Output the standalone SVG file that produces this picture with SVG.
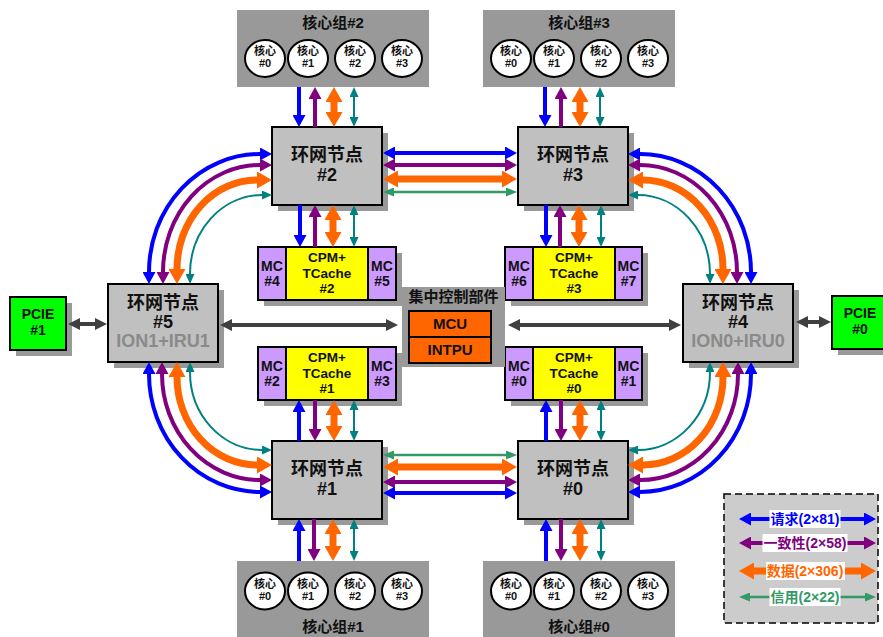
<svg xmlns="http://www.w3.org/2000/svg" width="883" height="637" viewBox="0 0 883 637">
<style>
text{font-family:"Liberation Sans","Noto Sans CJK SC",sans-serif;font-weight:bold;text-anchor:middle;fill:#111}
.f18{font-size:18px}.f15{font-size:15px}.f11{font-size:11px}.f14{font-size:14px}.f13{font-size:13.5px}
.grey{fill:#8a8a8a}
.cg{fill:#999}
.core{fill:#fff;stroke:#000;stroke-width:2}
.sh{fill:#999}
.rn{fill:#c0c0c0;stroke:#000;stroke-width:2}
.mc{fill:#cc99ff;stroke:#000;stroke-width:2}
.cpm{fill:#ffff00;stroke:#000;stroke-width:2}
.or{fill:#ff6600;stroke:#000;stroke-width:2}
.pc{fill:#00ff00;stroke:#000;stroke-width:2}
.b{fill:none;stroke:#0000ff;stroke-width:4}
.p{fill:none;stroke:#800080;stroke-width:4}
.o{fill:none;stroke:#ff6600;stroke-width:7}
.t{fill:none;stroke:#008080;stroke-width:2}
.g{fill:none;stroke:#339966;stroke-width:2.5}
.k{fill:none;stroke:#404040;stroke-width:4}
.bs{marker-start:url(#mb)}.be{marker-end:url(#mb)}
.ps{marker-start:url(#mp)}.pe{marker-end:url(#mp)}
.os{marker-start:url(#mo)}.oe{marker-end:url(#mo)}
.ts{marker-start:url(#mt)}.te{marker-end:url(#mt)}
.gs{marker-start:url(#mg)}.ge{marker-end:url(#mg)}
.ks{marker-start:url(#mk)}.ke{marker-end:url(#mk)}
</style>
<defs>
<marker id="mb" markerUnits="userSpaceOnUse" viewBox="0 0 12 13" markerWidth="12" markerHeight="13" refX="0" refY="6.5" orient="auto-start-reverse"><path d="M0,0L12,6.5L0,13z" fill="#0000ff"/></marker>
<marker id="mp" markerUnits="userSpaceOnUse" viewBox="0 0 12 13" markerWidth="12" markerHeight="13" refX="0" refY="6.5" orient="auto-start-reverse"><path d="M0,0L12,6.5L0,13z" fill="#800080"/></marker>
<marker id="mo" markerUnits="userSpaceOnUse" viewBox="0 0 15 17" markerWidth="15" markerHeight="17" refX="0" refY="8.5" orient="auto-start-reverse"><path d="M0,0L15,8.5L0,17z" fill="#ff6600"/></marker>
<marker id="mt" markerUnits="userSpaceOnUse" viewBox="0 0 10 9" markerWidth="10" markerHeight="9" refX="0" refY="4.5" orient="auto-start-reverse"><path d="M0,0L10,4.5L0,9z" fill="#008080"/></marker>
<marker id="mg" markerUnits="userSpaceOnUse" viewBox="0 0 11 9" markerWidth="11" markerHeight="9" refX="0" refY="4.5" orient="auto-start-reverse"><path d="M0,0L11,4.5L0,9z" fill="#339966"/></marker>
<marker id="mk" markerUnits="userSpaceOnUse" viewBox="0 0 12 12" markerWidth="12" markerHeight="12" refX="0" refY="6" orient="auto-start-reverse"><path d="M0,0L12,6L0,12z" fill="#404040"/></marker>
</defs>

<g id="core2">
<rect class="cg" x="237" y="10" width="192" height="77"/>
<text class="f15" x="333" y="28">核心组#2</text>
<ellipse class="core" cx="265" cy="58.5" rx="20" ry="18.5"/><ellipse class="core" cx="308" cy="58.5" rx="20" ry="18.5"/><ellipse class="core" cx="355" cy="58.5" rx="20" ry="18.5"/><ellipse class="core" cx="402" cy="58.5" rx="20" ry="18.5"/>
<text class="f11" x="265" y="55">核心</text><text class="f11" x="265" y="67">#0</text>
<text class="f11" x="308" y="55">核心</text><text class="f11" x="308" y="67">#1</text>
<text class="f11" x="355" y="55">核心</text><text class="f11" x="355" y="67">#2</text>
<text class="f11" x="402" y="55">核心</text><text class="f11" x="402" y="67">#3</text>
</g>
<g id="core3">
<rect class="cg" x="483" y="10" width="192" height="77"/>
<text class="f15" x="579" y="28">核心组#3</text>
<ellipse class="core" cx="511" cy="58.5" rx="20" ry="18.5"/><ellipse class="core" cx="554" cy="58.5" rx="20" ry="18.5"/><ellipse class="core" cx="601" cy="58.5" rx="20" ry="18.5"/><ellipse class="core" cx="648" cy="58.5" rx="20" ry="18.5"/>
<text class="f11" x="511" y="55">核心</text><text class="f11" x="511" y="67">#0</text>
<text class="f11" x="554" y="55">核心</text><text class="f11" x="554" y="67">#1</text>
<text class="f11" x="601" y="55">核心</text><text class="f11" x="601" y="67">#2</text>
<text class="f11" x="648" y="55">核心</text><text class="f11" x="648" y="67">#3</text>
</g>
<g id="core1">
<rect class="cg" x="237" y="561" width="192" height="80"/>
<text class="f15" x="333" y="632">核心组#1</text>
<ellipse class="core" cx="265" cy="591" rx="20" ry="18.5"/><ellipse class="core" cx="308" cy="591" rx="20" ry="18.5"/><ellipse class="core" cx="355" cy="591" rx="20" ry="18.5"/><ellipse class="core" cx="402" cy="591" rx="20" ry="18.5"/>
<text class="f11" x="265" y="587.5">核心</text><text class="f11" x="265" y="600">#0</text>
<text class="f11" x="308" y="587.5">核心</text><text class="f11" x="308" y="600">#1</text>
<text class="f11" x="355" y="587.5">核心</text><text class="f11" x="355" y="600">#2</text>
<text class="f11" x="402" y="587.5">核心</text><text class="f11" x="402" y="600">#3</text>
</g>
<g id="core0">
<rect class="cg" x="483" y="561" width="192" height="80"/>
<text class="f15" x="579" y="632">核心组#0</text>
<ellipse class="core" cx="511" cy="591" rx="20" ry="18.5"/><ellipse class="core" cx="554" cy="591" rx="20" ry="18.5"/><ellipse class="core" cx="601" cy="591" rx="20" ry="18.5"/><ellipse class="core" cx="648" cy="591" rx="20" ry="18.5"/>
<text class="f11" x="511" y="587.5">核心</text><text class="f11" x="511" y="600">#0</text>
<text class="f11" x="554" y="587.5">核心</text><text class="f11" x="554" y="600">#1</text>
<text class="f11" x="601" y="587.5">核心</text><text class="f11" x="601" y="600">#2</text>
<text class="f11" x="648" y="587.5">核心</text><text class="f11" x="648" y="600">#3</text>
</g>

<g id="ring2"><rect class="sh" x="278" y="133" width="110" height="78"/><rect class="rn" x="272" y="127" width="110" height="78"/>
<text class="f18" x="327" y="161">环网节点</text><text class="f18" x="327" y="181">#2</text></g>
<g id="ring3"><rect class="sh" x="524" y="133" width="110" height="78"/><rect class="rn" x="518" y="127" width="110" height="78"/>
<text class="f18" x="573" y="161">环网节点</text><text class="f18" x="573" y="181">#3</text></g>
<g id="ring1"><rect class="sh" x="278" y="447" width="110" height="78"/><rect class="rn" x="272" y="441" width="110" height="78"/>
<text class="f18" x="327" y="475">环网节点</text><text class="f18" x="327" y="495">#1</text></g>
<g id="ring0"><rect class="sh" x="524" y="447" width="110" height="78"/><rect class="rn" x="518" y="441" width="110" height="78"/>
<text class="f18" x="573" y="475">环网节点</text><text class="f18" x="573" y="495">#0</text></g>
<g id="ring5"><rect class="sh" x="114" y="290" width="110" height="78"/><rect class="rn" x="108" y="284" width="110" height="78"/>
<text class="f18" x="163" y="309">环网节点</text><text class="f18" x="163" y="328">#5</text><text class="f18 grey" x="163" y="347">ION1+IRU1</text></g>
<g id="ring4"><rect class="sh" x="689" y="290" width="110" height="78"/><rect class="rn" x="683" y="284" width="110" height="78"/>
<text class="f18" x="738" y="309">环网节点</text><text class="f18" x="738" y="328">#4</text><text class="f18 grey" x="738" y="347">ION0+IRU0</text></g>

<g id="cpm2"><rect class="sh" x="264" y="253" width="138" height="53"/>
<rect class="mc" x="258" y="247" width="28" height="53"/><rect class="cpm" x="286" y="247" width="82" height="53"/><rect class="mc" x="368" y="247" width="28" height="53"/>
<text class="f14" x="272" y="270.5">MC</text><text class="f14" x="272" y="286">#4</text>
<text class="f13" x="327" y="262">CPM+</text><text class="f13" x="327" y="277.5">TCache</text><text class="f13" x="327" y="293">#2</text>
<text class="f14" x="382" y="270.5">MC</text><text class="f14" x="382" y="286">#5</text></g>
<g id="cpm3"><rect class="sh" x="511" y="253" width="137" height="53"/>
<rect class="mc" x="505" y="247" width="28" height="53"/><rect class="cpm" x="533" y="247" width="82" height="53"/><rect class="mc" x="615" y="247" width="27" height="53"/>
<text class="f14" x="519" y="270.5">MC</text><text class="f14" x="519" y="286">#6</text>
<text class="f13" x="574" y="262">CPM+</text><text class="f13" x="574" y="277.5">TCache</text><text class="f13" x="574" y="293">#3</text>
<text class="f14" x="628.5" y="270.5">MC</text><text class="f14" x="628.5" y="286">#7</text></g>
<g id="cpm1"><rect class="sh" x="264" y="353" width="138" height="53"/>
<rect class="mc" x="258" y="347" width="28" height="53"/><rect class="cpm" x="286" y="347" width="82" height="53"/><rect class="mc" x="368" y="347" width="28" height="53"/>
<text class="f14" x="272" y="370.5">MC</text><text class="f14" x="272" y="386">#2</text>
<text class="f13" x="327" y="362">CPM+</text><text class="f13" x="327" y="377.5">TCache</text><text class="f13" x="327" y="393">#1</text>
<text class="f14" x="382" y="370.5">MC</text><text class="f14" x="382" y="386">#3</text></g>
<g id="cpm0"><rect class="sh" x="511" y="353" width="137" height="53"/>
<rect class="mc" x="505" y="347" width="28" height="53"/><rect class="cpm" x="533" y="347" width="82" height="53"/><rect class="mc" x="615" y="347" width="27" height="53"/>
<text class="f14" x="519" y="370.5">MC</text><text class="f14" x="519" y="386">#0</text>
<text class="f13" x="574" y="362">CPM+</text><text class="f13" x="574" y="377.5">TCache</text><text class="f13" x="574" y="393">#0</text>
<text class="f14" x="628.5" y="370.5">MC</text><text class="f14" x="628.5" y="386">#1</text></g>

<g id="ctrl"><rect class="cg" x="402" y="287" width="103" height="80"/>
<text class="f15" x="453.5" y="302">集中控制部件</text>
<rect class="or" x="409" y="311" width="82" height="26"/><rect class="or" x="409" y="337" width="82" height="26"/>
<text class="f15" x="450" y="329">MCU</text><text class="f15" x="450" y="355">INTPU</text></g>

<g id="pcie1"><rect class="sh" x="16" y="303" width="56" height="53"/><rect class="pc" x="10" y="297" width="56" height="53"/>
<text class="f14" x="38" y="319">PCIE</text><text class="f14" x="38" y="335">#1</text></g>
<g id="pcie0"><rect class="sh" x="838" y="302" width="56" height="53"/><rect class="pc" x="832" y="296" width="56" height="53"/>
<text class="f14" x="860" y="318">PCIE</text><text class="f14" x="860" y="334">#0</text></g>

<g id="connectors">
<path class="b be" d="M299,87V115"/><path class="p pe" d="M315,127V99"/><path class="o os oe" d="M334,102V112"/><path class="t ts te" d="M354,97V117"/>
<path class="b be" d="M300,205V235"/><path class="p pe" d="M315,247V217"/><path class="o os oe" d="M333,220V232"/><path class="t ts te" d="M354,215V237"/>
<path class="b be" d="M545,87V115"/><path class="p pe" d="M561,127V99"/><path class="o os oe" d="M580,102V112"/><path class="t ts te" d="M600,97V117"/>
<path class="b be" d="M546,205V235"/><path class="p pe" d="M560,247V217"/><path class="o os oe" d="M579,220V232"/><path class="t ts te" d="M601,215V237"/>
<path class="b be" d="M299,441V412"/><path class="p pe" d="M315,400V429"/><path class="o os oe" d="M334,415V426"/><path class="t ts te" d="M354,410V431"/>
<path class="b be" d="M299,561V531"/><path class="p pe" d="M314,519V549"/><path class="o os oe" d="M333,534V546"/><path class="t ts te" d="M354,529V551"/>
<path class="b be" d="M546,441V412"/><path class="p pe" d="M561,400V429"/><path class="o os oe" d="M580,415V426"/><path class="t ts te" d="M601,410V431"/>
<path class="b be" d="M546,561V531"/><path class="p pe" d="M561,519V549"/><path class="o os oe" d="M580,534V546"/><path class="t ts te" d="M601,529V551"/>
<path class="b bs be" d="M395,153H505"/><path class="p ps pe" d="M395,165H505"/><path class="o os oe" d="M398,179H502"/><path class="g gs ge" d="M394,192H506"/>
<path class="g gs ge" d="M394,455H506"/><path class="o os oe" d="M398,467H502"/><path class="p ps pe" d="M395,482H505"/><path class="b bs be" d="M395,493H505"/>
<path class="b bs be" d="M149,272A111,118 0 0,1 260,154"/>
<path class="p ps pe" d="M163,272A97,107 0 0,1 260,165"/>
<path class="o os oe" d="M177,269A80,89 0 0,1 257,180"/>
<path class="t ts te" d="M190,274A72,79 0 0,1 262,195"/>
<path class="b bs be" d="M149,374A111,118 0 0,0 260,492"/>
<path class="p ps pe" d="M162,374A98,106 0 0,0 260,480"/>
<path class="o os oe" d="M177,377A80,88 0 0,0 257,465"/>
<path class="t ts te" d="M190,372A72,78 0 0,0 262,450"/>
<path class="b bs be" d="M640,154A111,118 0 0,1 751,272"/>
<path class="p ps pe" d="M640,165A97,107 0 0,1 737,272"/>
<path class="o os oe" d="M643,180A80,89 0 0,1 723,269"/>
<path class="t ts te" d="M638,195A72,79 0 0,1 710,274"/>
<path class="b bs be" d="M751,374A111,118 0 0,1 640,492"/>
<path class="p ps pe" d="M738,374A98,106 0 0,1 640,480"/>
<path class="o os oe" d="M723,377A80,88 0 0,1 643,465"/>
<path class="t ts te" d="M710,372A72,78 0 0,1 638,450"/>
<path class="k ks ke" d="M80,324H95"/>
<path class="k ks ke" d="M232,325H386"/>
<path class="k ks ke" d="M520,325H669"/>
<path class="k ks ke" d="M808,322H819"/>
</g>

<g id="legend">
<rect x="724" y="494" width="154" height="129" fill="#cccccc" stroke="#000" stroke-width="1.5" stroke-dasharray="7 4"/>
<path class="b bs be" d="M751,519H864"/>
<path class="p ps pe" d="M751,543H864"/>
<path class="o os oe" d="M754,571H861"/>
<path class="g gs ge" d="M750,597H865"/>
<rect x="769.5" y="510" width="71" height="18" fill="#fff"/>
<rect x="762.5" y="534" width="85" height="18" fill="#fff"/>
<rect x="766" y="562" width="79" height="18" fill="#fff"/>
<rect x="769.5" y="588" width="71" height="18" fill="#fff"/>
<text class="f14" x="805" y="524" style="fill:#0000ff">请求(2×81)</text>
<text class="f14" x="805" y="548" style="fill:#800080">一致性(2×58)</text>
<text class="f14" x="805" y="576" style="fill:#ff6600">数据(2×306)</text>
<text class="f14" x="805" y="602" style="fill:#339966">信用(2×22)</text>
</g>
</svg>
